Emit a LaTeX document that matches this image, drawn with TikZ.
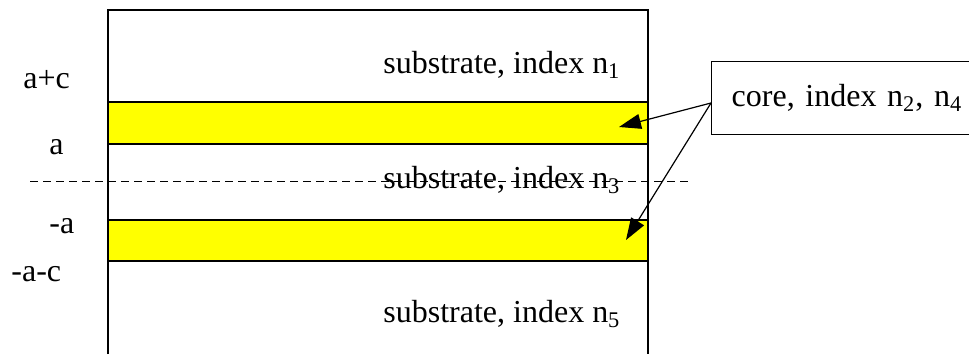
\documentclass[tikz,border=0pt]{standalone}
\usepackage{fontspec}
\setmainfont{Liberation Serif}
\usetikzlibrary{arrows.meta}
\definecolor{coreyellow}{RGB}{255,255,0}

\begin{document}
\begin{tikzpicture}[x=0.5pt,y=-0.5pt,
  lbl/.style={anchor=base west, inner sep=0pt, font=\fontsize{16}{19}\selectfont},
  core/.style={fill=coreyellow, draw=black, line width=0.7pt},
  ptr/.style={-{Triangle[length=11pt,width=7.5pt]}, line width=0.6pt}]
\useasboundingbox (0,0) rectangle (969,354);
% layers
\draw[core] (108,102) rectangle (648,144);
\draw[core] (108,220) rectangle (648,261);
\draw[line width=1pt] (108,354) -- (108,10) -- (648,10) -- (648,354);
\draw[dash pattern=on 4pt off 2.5pt, line width=0.5pt] (30,181) -- (691,181);
% texts
\node[lbl] (sub1) at (383,73) {substrate, index n\textsubscript{1}};
\node[lbl] (sub3) at (383,188) {substrate, index n\textsubscript{3}};
\node[lbl] (sub5) at (383,322) {substrate, index n\textsubscript{5}};
\node[lbl] (ac) at (23,88) {a+c};
\node[lbl] (a) at (49,154) {a};
\node[lbl] (ma) at (49,233) {-a};
\node[lbl] (mac) at (11,281) {-a-c};
% label box
\node[draw, line width=0.7pt, anchor=north west, minimum width=128pt, minimum height=36.5pt,
  text width=118pt, inner xsep=10pt, align=left, font=\fontsize{16}{19}\selectfont]
  (corelbl) at (711,61) {core, index n\textsubscript{2}, n\textsubscript{4}};
\coordinate (src) at (711,103);
\coordinate (tip1) at (619,127);
\coordinate (tip2) at (626,240);
\draw[ptr] (src) -- (tip1);
\draw[ptr] (src) -- (tip2);
\end{tikzpicture}
\end{document}
